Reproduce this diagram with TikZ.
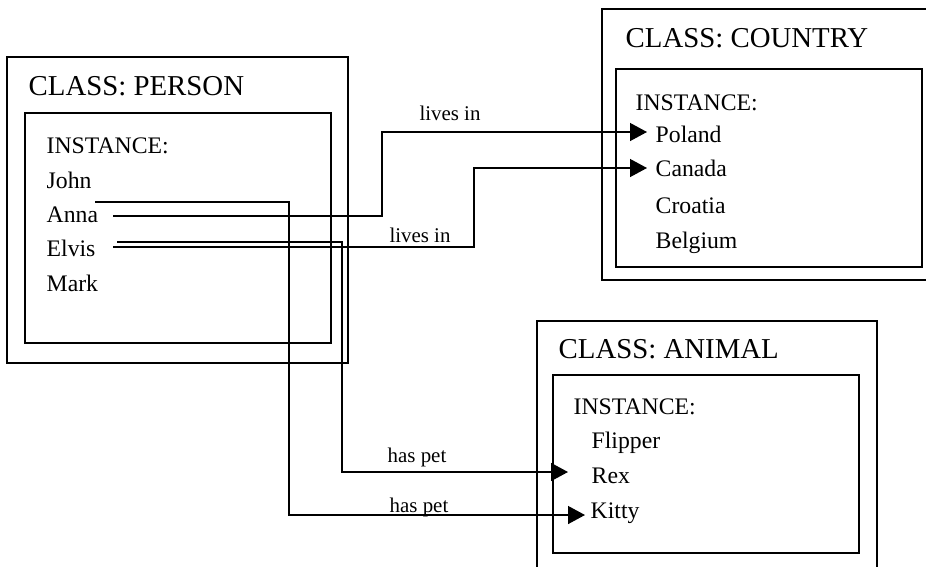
\documentclass[tikz,border=0pt]{standalone}
\usepackage{fontspec}
\setmainfont{Liberation Serif}
\usepackage{tikz}
\usetikzlibrary{calc,arrows.meta}

\begin{document}
\begin{tikzpicture}[x=0.02cm,y=-0.02cm,line width=0.8pt,
  >={Triangle[length=0.34cm,width=0.36cm]},
  title/.style={anchor=base west,inner sep=0,font=\fontsize{16.4}{19}\selectfont},
  item/.style={anchor=base west,inner sep=0,font=\fontsize{13.5}{16}\selectfont},
  tag/.style={anchor=base,inner sep=0,font=\fontsize{11.9}{14}\selectfont}]
  \clip (0,0) rectangle (926,566);
  % class frames
  \draw (7,57) rectangle (348,363);
  \draw (25,113) rectangle (331,343);
  \draw (602,9) rectangle (935,280);
  \draw (616,69) rectangle (922,267);
  \draw (537,321) rectangle (877,575);
  \draw (553,375) rectangle (859,553);
  \node[title] (person) at (28,95) {CLASS: PERSON};
  \node[title] (country) at (625,47) {CLASS: COUNTRY};
  \node[title] (animal) at (558,358) {CLASS: ANIMAL};
  \node[item] (pinst) at (46,153) {INSTANCE:};
  \node[item] (john)  at (46,188) {John};
  \node[item] (anna)  at (46,222) {Anna};
  \node[item] (elvis) at (46,256) {Elvis};
  \node[item] (mark)  at (46,291) {Mark};
  \node[item] (cinst)   at (635,110) {INSTANCE:};
  \node[item] (poland)  at (655,142) {Poland};
  \node[item] (canada)  at (655,176) {Canada};
  \node[item] (croatia) at (655,213) {Croatia};
  \node[item] (belgium) at (655,248) {Belgium};
  \node[item] (ainst)   at (573,414) {INSTANCE:};
  \node[item] (flipper) at (591,448) {Flipper};
  \node[item] (rex)     at (591,483) {Rex};
  \node[item] (kitty)   at (590,518) {Kitty};
  % relations
  \draw[->] ($(anna.base west)+(67,-6)$) -- ++(269,0) |- ($(poland.base west)+(-8,-10)$);
  \draw[->] ($(elvis.base west)+(67,-9)$) -- ++(361,0) |- ($(canada.base west)+(-8,-8)$);
  \draw[->] ($(elvis.base west)+(71,-14)$) -- ++(225,0) |- ($(rex.base west)+(-23,-11)$);
  \draw[->] ($(john.base west)+(49,14)$) -- ++(194,0) |- ($(kitty.base west)+(-5,-3)$);
  \node[tag] (live1) at (450,120) {lives in};
  \node[tag] (live2) at (420,242) {lives in};
  \node[tag] (pet1)  at (417,462) {has pet};
  \node[tag] (pet2)  at (419,512) {has pet};
\end{tikzpicture}
\end{document}
